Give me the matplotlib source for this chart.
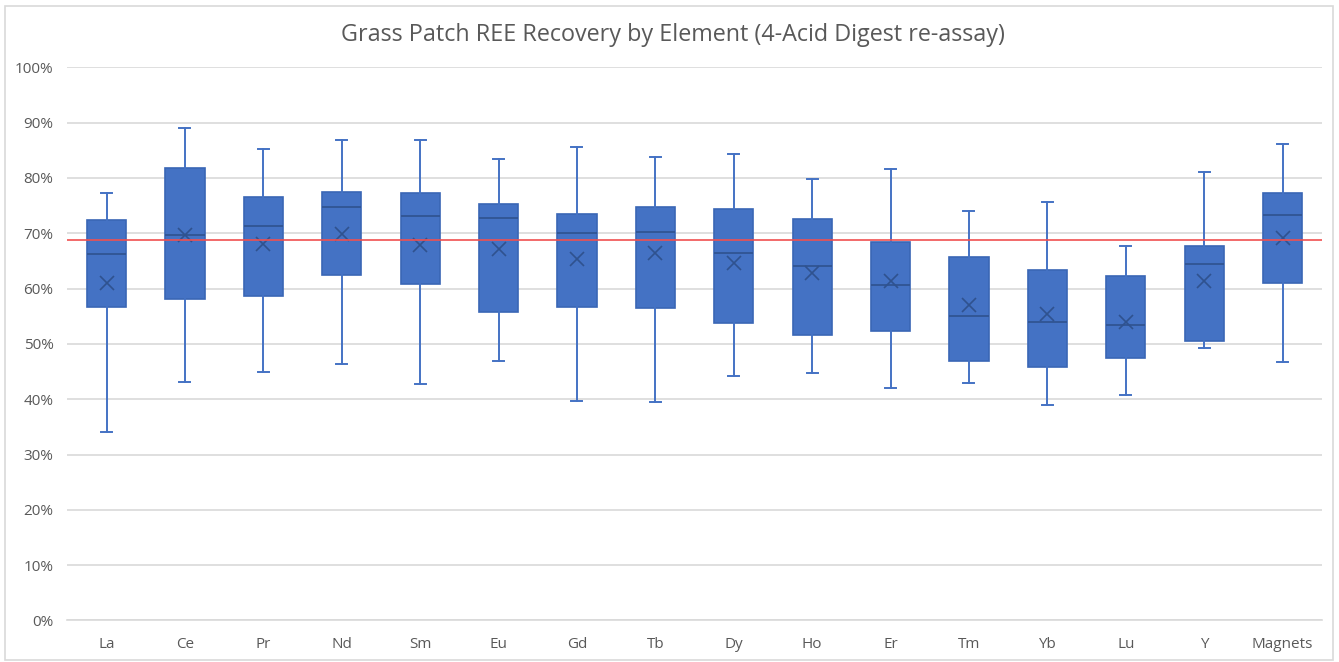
import matplotlib
matplotlib.use("Agg")
import matplotlib.pyplot as plt
from matplotlib.patches import Rectangle
from matplotlib.ticker import PercentFormatter

categories = ["La", "Ce", "Pr", "Nd", "Sm", "Eu", "Gd", "Tb", "Dy", "Ho",
              "Er", "Tm", "Yb", "Lu", "Y", "Magnets"]
whisker_low = [34.1, 43.1, 44.9, 46.3, 42.7, 46.9, 39.7, 39.5, 44.2, 44.8,
               42.1, 42.9, 39.0, 40.7, 49.2, 46.8]
q1 = [56.7, 58.2, 58.7, 62.4, 60.9, 55.8, 56.7, 56.5, 53.8, 51.7,
      52.4, 47.0, 45.9, 47.4, 50.5, 61.1]
median = [66.2, 69.6, 71.4, 74.8, 73.1, 72.7, 70.1, 70.2, 66.4, 64.1,
          60.6, 55.0, 54.0, 53.5, 64.5, 73.3]
q3 = [72.4, 81.8, 76.5, 77.5, 77.3, 75.3, 73.4, 74.8, 74.4, 72.6,
      68.5, 65.7, 63.3, 62.3, 67.7, 77.2]
whisker_high = [77.3, 89.1, 85.3, 86.8, 86.8, 83.4, 85.6, 83.7, 84.4, 79.9,
                81.6, 74.1, 75.6, 67.7, 81.0, 86.2]
mean = [61.1, 69.6, 68.1, 69.8, 67.8, 67.2, 65.4, 66.5, 64.7, 62.8,
        61.4, 57.1, 55.4, 53.9, 61.4, 69.2]
reference_line = 68.8
title = "Grass Patch REE Recovery by Element (4-Acid Digest re-assay)"

plt.rcParams["font.family"] = ["Open Sans", "DejaVu Sans"]

fig = plt.figure(figsize=(13.39, 6.62), dpi=100)
ax = fig.add_axes([0.0503, 0.0627, 0.9368, 0.8356])

stats = []
for i, c in enumerate(categories):
    stats.append(dict(label=c, whislo=whisker_low[i], q1=q1[i], med=median[i],
                      q3=q3[i], whishi=whisker_high[i], mean=mean[i], fliers=[]))

box_color = "#4472C4"
positions = list(range(1, len(categories) + 1))
ax.bxp(stats, positions=positions, widths=0.5, patch_artist=True,
       showmeans=True, showfliers=False,
       boxprops=dict(facecolor=box_color, edgecolor="#3A66B5", linewidth=1.2),
       medianprops=dict(color="#2F528F", linewidth=1.2),
       whiskerprops=dict(color=box_color, linewidth=1.4),
       capprops=dict(color=box_color, linewidth=1.4),
       capwidths=0.14,
       meanprops=dict(marker="x", markeredgecolor="#2F528F", markersize=10,
                      markeredgewidth=1.2))

ax.axhline(reference_line, color="#F05050", linewidth=1.2, zorder=3)

ax.set_xlim(0.5, len(categories) + 0.5)
ax.set_ylim(0, 100)
ax.set_yticks(range(0, 101, 10))
ax.yaxis.set_major_formatter(PercentFormatter(decimals=0))
ax.grid(axis="y", color="#D9D9D9", linewidth=1.2)
ax.set_axisbelow(True)
for s in ["top", "right", "left"]:
    ax.spines[s].set_visible(False)
ax.spines["bottom"].set_color("#D9D9D9")
ax.spines["bottom"].set_linewidth(1.2)
ax.tick_params(axis="both", length=0, colors="#595959", labelsize=11)
ax.tick_params(axis="x", pad=12)
ax.tick_params(axis="y", pad=10)

fig.text(0.5025, 0.947, title, ha="center", va="center", fontsize=16.8,
         color="#595959")

fig.patches.append(Rectangle((5 / 1339, 2 / 662), 1328 / 1339, 654 / 662,
                             transform=fig.transFigure, fill=False,
                             edgecolor="#D9D9D9", linewidth=1.2))

fig.savefig("out.png", dpi=100, facecolor="white")
